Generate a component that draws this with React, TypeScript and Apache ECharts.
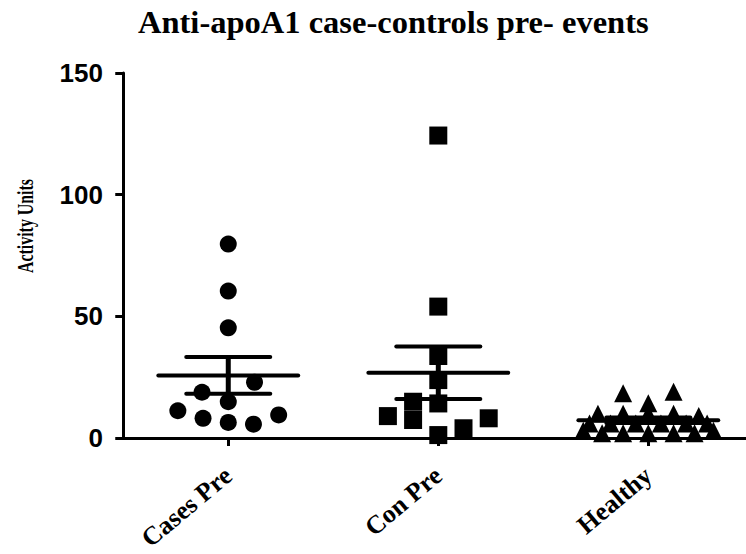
import React, { useEffect, useRef } from "react";
import * as echarts from "echarts";

const titleText = "Anti-apoA1 case-controls pre- events";
const yAxisName = "Activity Units";
const categories = ["Cases Pre", "Con Pre", "Healthy"];
const yTicks = [0, 50, 100, 150];

const casesPre = [79.7, 60.4, 45.3, 22.9, 18.8, 14.9, 11.2, 8.1, 9.5, 6.4, 5.7];
const casesPreJitter = [0, 0, 0, 0.125, -0.125, 0, -0.24, -0.12, 0.24, 0, 0.12];

const conPre = [124.3, 54, 33.7, 23.8, 14.9, 14.2, 9.0, 7.4, 8.1, 4.0, 1.2];
const conPreJitter = [0, 0, 0, 0, -0.12, 0, -0.24, -0.12, 0.24, 0.12, 0];

const healthy = [18.4, 19, 14.3, 10, 10, 10, 10, 9, 6, 6, 6, 6, 6, 6, 3, 2, 2, 2, 2, 2, 3];
const healthyJitter = [-0.12, 0.12, 0, -0.24, -0.12, 0, 0.12, 0.24, -0.28, -0.18, -0.06, 0.06, 0.18, 0.28, -0.31, -0.22, -0.12, 0, 0.12, 0.22, 0.31];

const groups = [
  { name: categories[0], values: casesPre, jitter: casesPreJitter, symbol: "circle", size: 17 },
  { name: categories[1], values: conPre, jitter: conPreJitter, symbol: "rect", size: 18 },
  { name: categories[2], values: healthy, jitter: healthyJitter, symbol: "triangle", size: 18 },
];

function stats(v: number[]) {
  const n = v.length;
  const mean = v.reduce((a, b) => a + b, 0) / n;
  const sd = Math.sqrt(v.reduce((a, b) => a + (b - mean) * (b - mean), 0) / (n - 1));
  const sem = sd / Math.sqrt(n);
  return [mean, mean + sem, mean - sem];
}

export default function App() {
  const ref = useRef<HTMLDivElement>(null);
  useEffect(() => {
    if (!ref.current) return;
    const chart = echarts.init(ref.current, null, { renderer: "svg" });
    const centers = categories.map((_, i) => i + 0.5);
    const scatterSeries = groups.map((g, gi) => ({
      type: "scatter",
      name: g.name,
      symbol: g.symbol,
      symbolSize: g.size,
      itemStyle: { color: "#000", opacity: 1 },
      data: g.values.map((v, i) => [gi + 0.5 + g.jitter[i], v]),
      z: 2,
    }));
    const statData = groups.map((g, gi) => [gi + 0.5, ...stats(g.values)]);
    const option: any = {
      animation: false,
      title: {
        text: titleText,
        left: 133,
        top: 0,
        textStyle: {
          fontFamily: "Liberation Serif",
          fontWeight: "bold",
          fontSize: 32.5,
          color: "#000",
        },
      },
      graphic: [
        {
          type: "text",
          x: 25,
          y: 226,
          rotation: Math.PI / 2,
          scaleX: 0.69,
          style: {
            text: yAxisName,
            fontFamily: "Liberation Serif",
            fontWeight: "bold",
            fontSize: 23,
            fill: "#000",
            align: "center",
            verticalAlign: "middle",
          },
        },
      ],
      grid: { left: 118, top: 73, right: 0, bottom: 116, containLabel: false, outerBoundsMode: "none" },
      xAxis: {
        type: "value",
        min: -0.025,
        max: 2.965,
        splitLine: { show: false },
        axisLine: { lineStyle: { color: "#000", width: 3 } },
        axisTick: {
          show: true,
          customValues: centers,
          length: 8,
          lineStyle: { color: "#000", width: 3 },
        },
        axisLabel: {
          customValues: centers,
          formatter: (v: number) => categories[Math.round(v - 0.5)] ?? "",
          rotate: 40,
          margin: 34,
          fontFamily: "Liberation Serif",
          fontWeight: "bold",
          fontSize: 26,
          color: "#000",
        },
      },
      yAxis: {
        type: "value",
        min: 0,
        max: 150,
        interval: 50,
        splitLine: { show: false },
        axisLine: { show: true, lineStyle: { color: "#000", width: 3 } },
        axisTick: { show: true, length: 8, lineStyle: { color: "#000", width: 3 } },
        axisLabel: {
          margin: 15,
          fontFamily: "Liberation Sans",
          fontWeight: "bold",
          fontSize: 26,
          color: "#000",
          formatter: (v: number) => (yTicks.includes(v) ? String(v) : ""),
        },
      },
      series: [
        ...scatterSeries,
        {
          type: "custom",
          name: "mean-sem",
          z: 3,
          data: statData,
          renderItem: (params: any, api: any) => {
            const cx = api.value(0);
            const m = api.coord([cx, api.value(1)]);
            const up = api.coord([cx, api.value(2)]);
            const lo = api.coord([cx, api.value(3)]);
            const halfMean = api.size([0.333, 0])[0];
            const halfSem = api.size([0.2, 0])[0];
            const ls = { stroke: "#000", lineWidth: 4, lineCap: "round" };
            return {
              type: "group",
              children: [
                { type: "line", shape: { x1: m[0] - halfMean, y1: m[1], x2: m[0] + halfMean, y2: m[1] }, style: ls },
                { type: "line", shape: { x1: up[0] - halfSem, y1: up[1], x2: up[0] + halfSem, y2: up[1] }, style: ls },
                { type: "line", shape: { x1: lo[0] - halfSem, y1: lo[1], x2: lo[0] + halfSem, y2: lo[1] }, style: ls },
                { type: "line", shape: { x1: up[0], y1: up[1], x2: lo[0], y2: lo[1] }, style: { stroke: "#000", lineWidth: 5 } },
              ],
            };
          },
        },
      ],
    };
    chart.setOption(option);
    return () => chart.dispose();
  }, []);
  return <div ref={ref} style={{ width: 746, height: 554, position: "absolute", left: 0, top: 0 }} />;
}
